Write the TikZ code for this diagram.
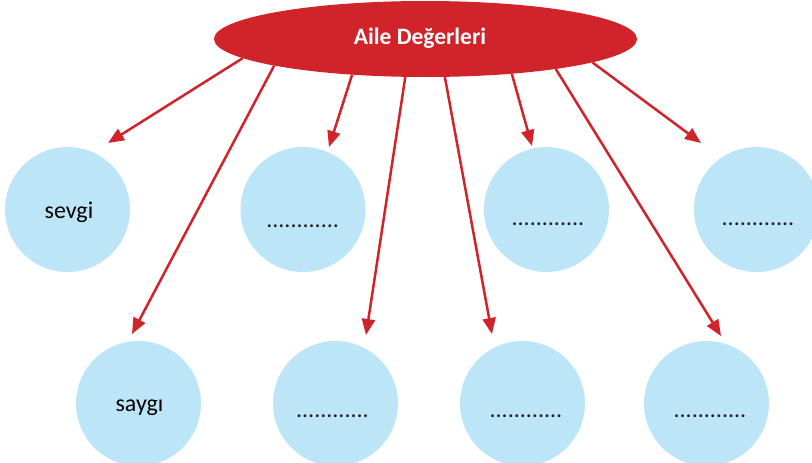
\documentclass[tikz,border=0pt]{standalone}
\usepackage{fontspec}
\setmainfont{Carlito}
\usetikzlibrary{shapes.geometric,arrows.meta}
\definecolor{aered}{HTML}{D1232A}
\definecolor{aeblue}{HTML}{BDE5F8}
\definecolor{aedot}{HTML}{222222}
\tikzset{
  valuecircle/.style={circle,fill=aeblue,draw=none,minimum size=125pt,inner sep=0pt},
  titleell/.style={ellipse,fill=aered,draw=none,minimum width=423pt,minimum height=76pt,inner sep=0pt},
  titletext/.style={text=white,font=\fontsize{23.5}{28}\selectfont\bfseries,anchor=base,inner sep=0pt},
  wordtext/.style={text=black,font=\fontsize{24}{28}\selectfont,anchor=base,inner sep=0pt},
  dottext/.style={text=aedot,font=\fontsize{24}{28}\selectfont,anchor=base,inner sep=0pt},
  redarrow/.style={draw=aered,line width=2.5pt,-{Triangle[length=16pt,width=13pt]}}
}
\begin{document}
\begin{tikzpicture}[x=1pt,y=-1pt]
\clip (0,0) rectangle (812,463);
\fill[white] (0,0) rectangle (812,463);
% circles
\node[valuecircle] (c1) at (67.5,209.5) {};
\node[valuecircle] (c2) at (303,209.5) {};
\node[valuecircle] (c3) at (546.5,209.5) {};
\node[valuecircle] (c4) at (756.5,209.5) {};
\node[valuecircle] (d1) at (138.5,403.5) {};
\node[valuecircle] (d2) at (335.5,403.5) {};
\node[valuecircle] (d3) at (522.5,403.5) {};
\node[valuecircle] (d4) at (706.5,403.5) {};
% labels
\node[wordtext] (l1) at (69,218) {sevgi};
\node[dottext] (l2) at (302.7,227) {............};
\node[dottext] (l3) at (548,225) {............};
\node[dottext] (l4) at (758,225) {............};
\node[wordtext] (m1) at (139.5,411) {saygı};
\node[dottext] (m2) at (332.5,417) {............};
\node[dottext] (m3) at (526,417) {............};
\node[dottext] (m4) at (710,417) {............};
% title
\node[titleell] (ell) at (425.5,39) {};
\node[titletext] (tt) at (420,44) {Aile Değerleri};
% arrow tips
\coordinate (t1) at (108,143);
\coordinate (t2) at (132,334);
\coordinate (t3) at (329,147);
\coordinate (t4) at (366,335);
\coordinate (t5) at (492,334);
\coordinate (t6) at (532,146);
\coordinate (t7) at (721,336);
\coordinate (t8) at (701,143);
% arrows
\draw[redarrow] (ell.186.95) -- (t1);
\draw[redarrow] (ell.190.7) -- (t2);
\draw[redarrow] (ell.206.1) -- (t3);
\draw[redarrow] (ell.242.8) -- (t4);
\draw[redarrow] (ell.297.2) -- (t5);
\draw[redarrow] (ell.338.4) -- (t6);
\draw[redarrow] (ell.347.0) -- (t7);
\draw[redarrow] (ell.352.1) -- (t8);
\end{tikzpicture}
\end{document}
